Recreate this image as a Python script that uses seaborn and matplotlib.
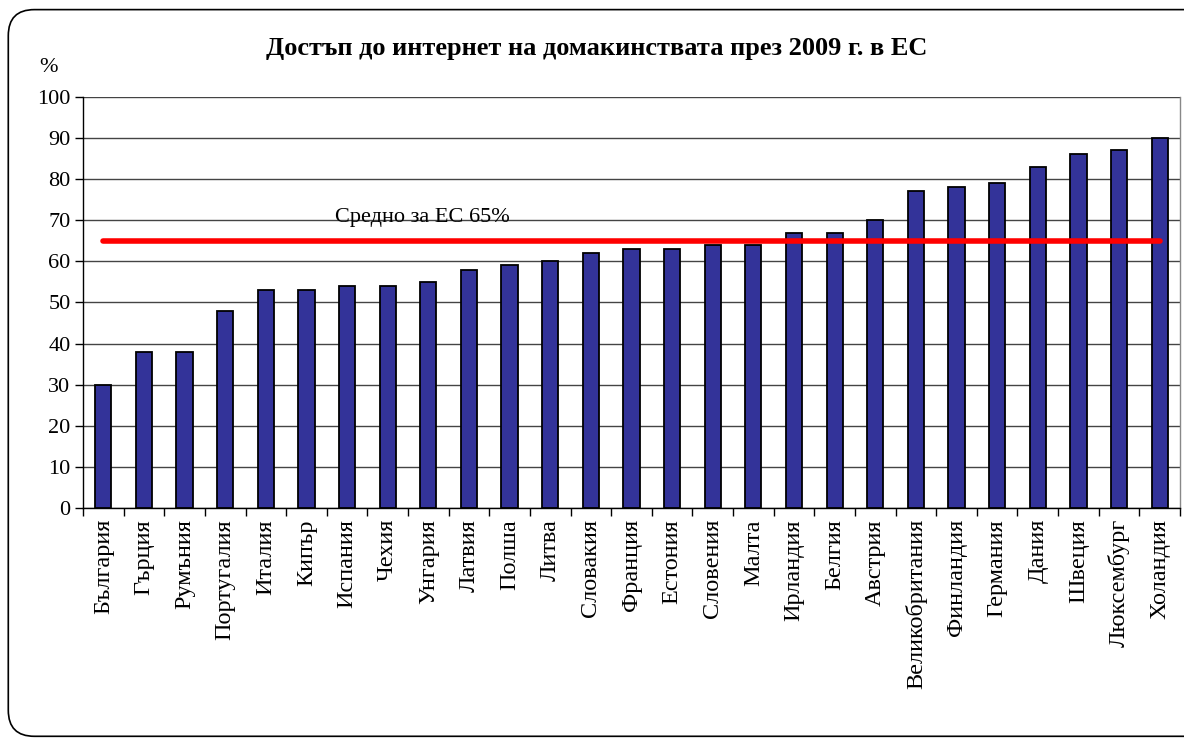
import matplotlib
matplotlib.use("Agg")
import matplotlib.pyplot as plt
import seaborn as sns
import pandas as pd
from matplotlib.patches import FancyBboxPatch

# data
countries = ["България", "Гърция", "Румъния", "Португалия", "Италия", "Кипър",
             "Испания", "Чехия", "Унгария", "Латвия", "Полша", "Литва",
             "Словакия", "Франция", "Естония", "Словения", "Малта", "Ирландия",
             "Белгия", "Австрия", "Великобритания", "Финландия", "Германия",
             "Дания", "Швеция", "Люксембург", "Холандия"]
values = [30, 38, 38, 48, 53, 53, 54, 54, 55, 58, 59, 60, 62, 63, 63, 64, 64,
          67, 67, 70, 77, 78, 79, 83, 86, 87, 90]
eu_avg = 65
yticks = list(range(0, 101, 10))

df = pd.DataFrame({"country": countries, "value": values})

sns.set_style("white")
plt.rcParams["font.family"] = ["Liberation Serif", "DejaVu Serif"]
plt.rcParams["text.color"] = "black"
plt.rcParams["xtick.color"] = "black"
plt.rcParams["ytick.color"] = "black"

fig = plt.figure(figsize=(11.84, 7.4), dpi=100)
ax = fig.add_axes([0.0701, 0.3135, 0.9265, 0.5555])

# rounded frame around the whole chart
frame = FancyBboxPatch((0.007, 0.005), 1.05, 0.982,
                       boxstyle="round,pad=0,rounding_size=0.022",
                       transform=fig.transFigure, facecolor="none",
                       edgecolor="black", linewidth=1.2, mutation_aspect=1.6)
fig.patches.append(frame)

sns.barplot(data=df, x="country", y="value", ax=ax, color="#333399",
            width=0.4, edgecolor="black", linewidth=1.3, saturation=1,
            zorder=3)

# EU average line
ax.plot([0, len(countries) - 1], [eu_avg, eu_avg], color="#ff0000",
        linewidth=4, solid_capstyle="round", zorder=4)
ax.text(5.7, 70.6, "Средно за ЕС 65%", fontsize=16, ha="left",
        va="center")

ax.set_xlim(-0.5, len(countries) - 0.5)
ax.set_ylim(0, 100)
ax.set_yticks(yticks)
ax.set_yticklabels([str(t) for t in yticks], fontsize=16)
ax.yaxis.grid(True, color="#444444", linewidth=1)
ax.set_axisbelow(True)

# x ticks between categories
ax.set_xticks([i for i in range(len(countries))])
ax.set_xticklabels(countries, rotation=90, fontsize=17.5)
ax.set_xticks([i - 0.5 for i in range(len(countries) + 1)], minor=True)
ax.tick_params(axis="x", which="major", length=0, pad=8)
ax.tick_params(axis="x", which="minor", length=6, width=1, color="black",
               direction="out", bottom=True)
ax.tick_params(axis="y", length=6, width=1, color="black", direction="out",
               left=True, pad=3)

ax.set_xlabel("")
ax.set_ylabel("")
for side in ["left", "bottom"]:
    ax.spines[side].set_color("black")
    ax.spines[side].set_linewidth(1)
ax.spines["top"].set_visible(False)
ax.spines["right"].set_color("#888888")
ax.spines["right"].set_linewidth(1)

fig.text(0.504, 0.935, "Достъп до интернет на домакинствата през 2009 г. в ЕС",
         ha="center", va="center", fontsize=19, fontweight="bold")
fig.text(0.041, 0.909, "%", ha="center", va="center", fontsize=16)

fig.savefig("out.png", dpi=100)
